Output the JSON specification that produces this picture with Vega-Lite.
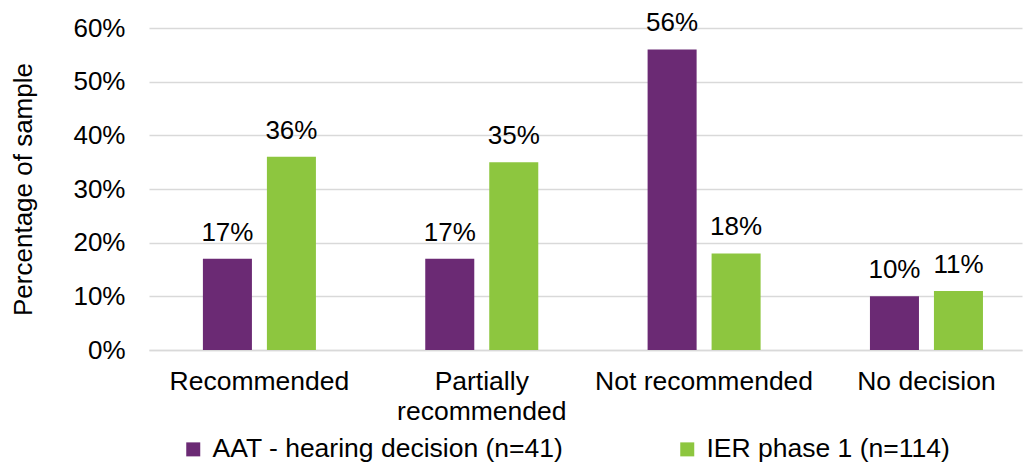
{
  "$schema": "https://vega.github.io/schema/vega-lite/v6.json",
  "width": 873,
  "height": 322,
  "autosize": {"type": "none"},
  "padding": {"left": 149, "top": 28, "right": 1, "bottom": 113},
  "background": "white",
  "config": {
    "view": {"stroke": null},
    "font": "Liberation Sans",
    "text": {"font": "Liberation Sans"}
  },
  "data": {
    "values": [
      {"category": "Recommended", "series": "AAT - hearing decision (n=41)", "value": 0.17},
      {"category": "Recommended", "series": "IER phase 1 (n=114)", "value": 0.36},
      {"category": "Partially recommended", "series": "AAT - hearing decision (n=41)", "value": 0.17},
      {"category": "Partially recommended", "series": "IER phase 1 (n=114)", "value": 0.35},
      {"category": "Not recommended", "series": "AAT - hearing decision (n=41)", "value": 0.56},
      {"category": "Not recommended", "series": "IER phase 1 (n=114)", "value": 0.18},
      {"category": "No decision", "series": "AAT - hearing decision (n=41)", "value": 0.10},
      {"category": "No decision", "series": "IER phase 1 (n=114)", "value": 0.11}
    ]
  },
  "encoding": {
    "x": {
      "field": "category",
      "type": "nominal",
      "sort": ["Recommended", "Partially recommended", "Not recommended", "No decision"],
      "scale": {"paddingInner": 0.4917, "paddingOuter": 0.209, "align": 0.58},
      "axis": {
        "title": null,
        "labelAngle": 0,
        "labelFontSize": 26.5,
        "labelColor": "#000000",
        "labelFont": "Liberation Sans",
        "labelPadding": 18,
        "labelLineHeight": 30,
        "labelBaseline": "top",
        "labelLimit": 500,
        "ticks": false,
        "tickSize": 0,
        "domain": true,
        "domainColor": "#d9d9d9",
        "domainWidth": 1.5,
        "labelExpr": "datum.label == 'Partially recommended' ? ['Partially', 'recommended'] : datum.label"
      }
    },
    "xOffset": {
      "field": "series",
      "type": "nominal",
      "scale": {"paddingInner": 0.234, "paddingOuter": 0}
    },
    "y": {
      "field": "value",
      "type": "quantitative",
      "scale": {"domain": [0, 0.6], "nice": false},
      "axis": {
        "title": "Percentage of sample",
        "titleFontSize": 26,
        "titleFont": "Liberation Sans",
        "titleFontWeight": "normal",
        "titleColor": "#000000",
        "titleAngle": 270,
        "titleBaseline": "alphabetic",
        "titleAlign": "center",
        "titleX": -118,
        "titleY": 161,
        "format": ".0%",
        "values": [0, 0.1, 0.2, 0.3, 0.4, 0.5, 0.6],
        "labelFontSize": 26,
        "labelFont": "Liberation Sans",
        "labelColor": "#000000",
        "labelPadding": 24,
        "ticks": false,
        "tickSize": 0,
        "domain": false,
        "grid": true,
        "gridColor": "#d9d9d9",
        "gridWidth": 1.5
      }
    }
  },
  "layer": [
    {
      "mark": {"type": "bar"},
      "encoding": {
        "color": {
          "field": "series",
          "type": "nominal",
          "scale": {"range": ["#6b2a74", "#8dc63f"]},
          "legend": {
            "title": null,
            "orient": "none",
            "legendX": 31,
            "legendY": 408,
            "direction": "horizontal",
            "symbolType": "square",
            "symbolSize": 196,
            "symbolStrokeWidth": 0,
            "labelFontSize": 26.5,
            "labelFont": "Liberation Sans",
            "labelColor": "#000000",
            "labelOffset": 6,
            "columnPadding": 110,
            "padding": 0,
            "labelLimit": 500
          }
        }
      }
    },
    {
      "mark": {"type": "text", "fontSize": 26, "font": "Liberation Sans", "color": "#000000", "baseline": "alphabetic", "dy": -18},
      "encoding": {
        "text": {"field": "value", "type": "quantitative", "format": ".0%"}
      }
    }
  ]
}
